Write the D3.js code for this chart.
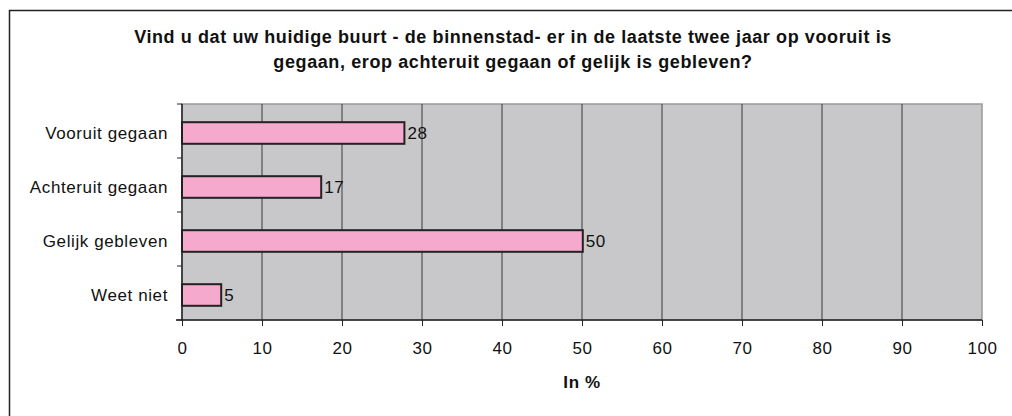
<!DOCTYPE html>
<html lang="nl">
<head>
    <meta charset="UTF-8">
    <title>Buurt binnenstad</title>
    <style>
        body { margin: 0; background: #fff; }
        text { font-family: "Liberation Sans", Arial, sans-serif; fill: #111; }
    </style>
</head>
<body>
    <svg id="svg" width="1012" height="416"></svg>

    <script src="https://d3js.org/d3.v7.min.js"></script>
    <script>
        const categories = ["Vooruit gegaan", "Achteruit gegaan", "Gelijk gebleven", "Weet niet"]
        // bar lengths, labels show them rounded
        const values = [27.8, 17.4, 50.1, 4.9]
        const xTicks = [0, 10, 20, 30, 40, 50, 60, 70, 80, 90, 100]
        const titleLines = [
            "Vind u dat uw huidige buurt - de binnenstad- er in de laatste twee jaar op vooruit is",
            "gegaan, erop achteruit gegaan of gelijk is gebleven?"
        ]
        const axisTitle = "In %"

        const data = categories.map((c, i) => ({ cat: c, val: values[i] }))

        const plotLeft = 182, plotRight = 982, plotTop = 104, plotBottom = 320
        const fontSize = 17, spacing = 0.6

        const svg = d3.select("#svg")

        // outer frame (right/bottom run off the picture)
        svg.append("rect")
            .attr("x", 9.5).attr("y", 10.5)
            .attr("width", 1012).attr("height", 420)
            .attr("fill", "white")
            .attr("stroke", "#222")
            .attr("stroke-width", 1.5)

        // title
        svg.append("g")
            .selectAll("text")
            .data(titleLines)
            .enter()
            .append("text")
            .attr("x", 513)
            .attr("y", (d, i) => 43 + i * 25)
            .attr("text-anchor", "middle")
            .attr("font-size", 18)
            .attr("font-weight", "bold")
            .attr("letter-spacing", spacing)
            .text(d => d)

        const xscale = d3.scaleLinear().domain([0, 100]).range([plotLeft, plotRight])
        const yscale = d3.scaleBand().domain(categories)
            .range([plotTop + 2, plotBottom + 2]).paddingInner(0.6).paddingOuter(0.3)

        // plot background
        svg.append("rect")
            .attr("x", plotLeft).attr("y", plotTop)
            .attr("width", plotRight - plotLeft).attr("height", plotBottom - plotTop)
            .attr("fill", "#c8c8ca")
            .attr("stroke", "#999")
            .attr("stroke-width", 1.5)

        // vertical gridlines
        svg.append("g")
            .selectAll("line")
            .data(xTicks.slice(1, -1))
            .enter()
            .append("line")
            .attr("x1", d => xscale(d)).attr("x2", d => xscale(d))
            .attr("y1", plotTop).attr("y2", plotBottom)
            .attr("stroke", "#3a3a3a")
            .attr("stroke-width", 1)

        // bars
        svg.append("g")
            .selectAll("rect")
            .data(data)
            .enter()
            .append("rect")
            .attr("x", xscale(0))
            .attr("y", d => yscale(d.cat))
            .attr("width", d => xscale(d.val) - xscale(0))
            .attr("height", yscale.bandwidth())
            .attr("fill", "#f5a9cd")
            .attr("stroke", "#222")
            .attr("stroke-width", 2)

        // value labels
        svg.append("g")
            .selectAll("text")
            .data(data)
            .enter()
            .append("text")
            .attr("x", d => xscale(d.val) + 3)
            .attr("y", d => yscale(d.cat) + yscale.bandwidth() / 2)
            .attr("dy", "0.36em")
            .attr("font-size", fontSize)
            .attr("letter-spacing", spacing)
            .text(d => d3.format(".0f")(d.val))

        // x axis
        const xAxis = svg.append("g")
            .attr("transform", `translate(0, ${plotBottom})`)
            .call(d3.axisBottom(xscale).tickValues(xTicks).tickSize(6).tickPadding(16))
        xAxis.select(".domain").attr("stroke", "#222").attr("stroke-width", 1.5)
            .attr("d", `M${plotLeft - 6},0H${plotRight}`)
        xAxis.selectAll(".tick line").attr("stroke", "#222")
        xAxis.selectAll(".tick text")
            .attr("font-size", fontSize)
            .attr("letter-spacing", spacing)
            .attr("font-family", "Liberation Sans, Arial, sans-serif")
            .attr("fill", "#111")

        // y axis: category labels with ticks at band edges
        const edges = d3.range(categories.length + 1)
            .map(i => plotTop + i * (plotBottom - plotTop) / categories.length)
        svg.append("line")
            .attr("x1", plotLeft).attr("x2", plotLeft)
            .attr("y1", plotTop).attr("y2", plotBottom)
            .attr("stroke", "#222").attr("stroke-width", 1.5)
        svg.append("g")
            .selectAll("line")
            .data(edges)
            .enter()
            .append("line")
            .attr("x1", plotLeft - 5).attr("x2", plotLeft)
            .attr("y1", d => d).attr("y2", d => d)
            .attr("stroke", "#222")

        svg.append("g")
            .selectAll("text")
            .data(categories)
            .enter()
            .append("text")
            .attr("x", 168)
            .attr("y", d => yscale(d) + yscale.bandwidth() / 2)
            .attr("dy", "0.36em")
            .attr("text-anchor", "end")
            .attr("font-size", fontSize)
            .attr("letter-spacing", spacing)
            .text(d => d)

        // axis title
        svg.append("text")
            .attr("x", (plotLeft + plotRight) / 2)
            .attr("y", 388)
            .attr("text-anchor", "middle")
            .attr("font-size", fontSize)
            .attr("font-weight", "bold")
            .attr("letter-spacing", spacing)
            .text(axisTitle)
    </script>
</body>
</html>
